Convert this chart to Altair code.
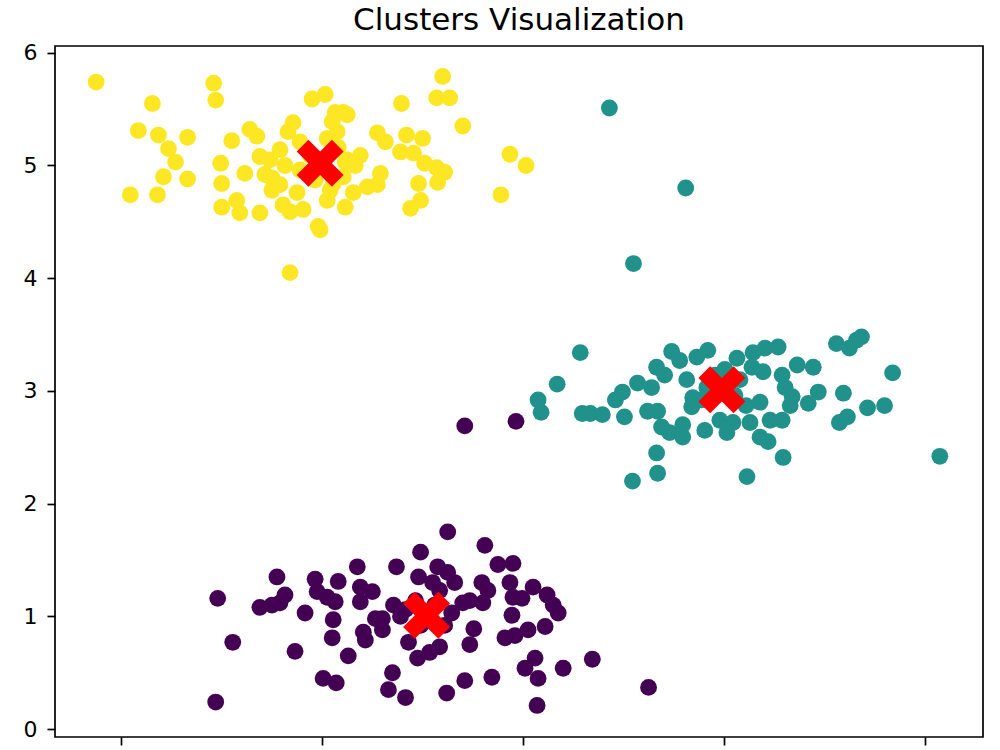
import altair as alt
import pandas as pd

# Cluster 0 (purple)
purple_x = [-1.04, -1.06, -0.89, -0.45, -0.62, -0.50, -0.37, -0.42, -0.17, -0.27,
            -0.07, -0.05, 0.05, 0.13, 0.16, 0.35, 0.38, 0.38, 0.50, 0.11,
            0.10, 0.41, 0.43, 0.53, 0.60, 0.60, 0.26, 0.01, 0.14, 0.70,
            0.66, 0.83, 0.74, 0.71, 0.78, 0.86, 0.95, 0.98, 0.96, 1.25,
            1.62, 1.15, 1.25, 1.32, 1.17, 1.10, 1.59, 1.65, 1.47, 1.60,
            1.40, 1.75, 1.90, 1.87, 1.90, 1.99, 2.10, 2.24, 2.30, 2.35,
            1.89, 1.29, 0.83, 1.51, 1.47, 1.82, 1.92, 2.05, 2.22, 1.17,
            1.07, 2.12, 2.02, 2.15, 2.40, 2.69, 1.69, 1.42, 1.24, 2.14,
            3.25, 1.42, 1.93, 0.98, 1.12, 0.93, 1.22]
purple_y = [1.16, 0.24, 0.77, 1.35, 1.08, 1.10, 1.19, 1.12, 1.03, 0.69,
            1.33, 1.22, 1.17, 1.13, 1.31, 1.44, 1.26, 1.13, 1.22, 0.97,
            0.81, 0.86, 0.79, 0.98, 0.98, 0.88, 0.65, 0.45, 0.41, 0.50,
            0.35, 0.28, 1.44, 1.10, 1.00, 0.77, 0.63, 1.57, 1.35, 1.75,
            1.63, 1.44, 1.39, 1.30, 1.23, 1.30, 1.30, 1.23, 1.14, 1.12,
            1.12, 1.46, 1.47, 1.30, 1.17, 1.16, 1.26, 1.19, 1.10, 1.03,
            1.01, 1.03, 1.06, 0.89, 0.75, 0.81, 0.83, 0.88, 0.91, 0.73,
            0.68, 0.63, 0.54, 0.45, 0.54, 0.62, 0.46, 0.43, 0.32, 0.21,
            0.37, 2.69, 2.73, 0.92, 1.10, 1.14, 0.92]

# Cluster 1 (teal)
teal_x = [2.86, 3.62, 3.10, 2.57, 2.34, 2.15, 2.18, 2.59, 2.67, 2.79,
          3.01, 2.92, 2.99, 3.14, 3.28, 3.33, 3.41, 3.48, 3.56, 3.24,
          3.34, 3.46, 3.59, 3.59, 3.33, 3.34, 3.09, 3.73, 3.84, 3.63,
          3.69, 3.68, 3.83, 3.96, 4.03, 4.13, 4.23, 4.09, 4.29, 4.41,
          4.54, 4.39, 4.28, 4.36, 4.58, 4.73, 4.89, 4.61, 4.68, 4.66,
          4.84, 4.94, 5.12, 5.25, 5.37, 5.68, 5.19, 5.23, 5.15, 5.43,
          5.60, 6.15, 4.59, 4.44, 4.36, 4.58, 4.46, 4.26, 5.32, 3.91,
          4.11, 3.78, 4.16, 4.01, 4.22, 3.38, 3.81]
teal_y = [5.51, 4.80, 4.13, 3.34, 3.06, 2.92, 2.81, 2.80, 2.80, 2.79,
          2.77, 2.92, 2.99, 3.07, 3.03, 3.21, 3.14, 3.35, 3.27, 2.82,
          2.82, 2.63, 2.70, 2.59, 2.45, 2.27, 2.20, 3.30, 3.36, 3.10,
          2.94, 2.86, 3.03, 2.74, 2.63, 3.29, 2.24, 2.72, 3.34, 3.38,
          3.39, 3.17, 3.21, 2.90, 3.14, 3.23, 3.21, 3.03, 2.95, 2.87,
          2.89, 2.99, 3.42, 3.38, 3.48, 3.16, 2.98, 2.77, 2.72, 2.85,
          2.87, 2.42, 2.41, 2.55, 2.59, 2.74, 2.74, 2.72, 3.45, 3.14,
          2.96, 2.92, 3.10, 3.19, 2.87, 2.68, 2.65]

# Cluster 2 (yellow)
yellow_x = [-2.25, -1.08, -1.06, -1.69, -0.10, 0.03, -1.83, -1.63, -1.34, -1.53,
            -1.46, -1.58, -1.34, -1.91, -1.64, -0.90, -0.72, -0.65, -1.01, -1.00,
            -0.77, -0.62, -0.52, -0.42, -0.34, -0.29, -0.50, -0.42, -0.50, -1.00,
            -0.85, -0.82, -0.62, -0.39, -0.32, -0.19, -0.02, 0.05, 0.08, 0.13,
            0.21, 0.10, 0.15, 0.05, 0.23, 0.25, 1.20, 1.14, 1.27, 0.79,
            1.40, 0.25, 0.55, 0.63, 0.84, 1.00, 0.78, 0.91, 1.02, 1.14,
            1.22, 0.38, 0.33, 0.23, 0.58, 0.55, 0.45, 0.31, 0.96, 1.15,
            0.98, 0.88, 1.87, 2.03, 1.78, 0.21, 0.11, -0.32, -0.04, -0.12,
            -0.22, -0.07, -0.25, -0.22, 0.16, -0.37, -0.57]
yellow_y = [5.74, 5.73, 5.58, 5.55, 5.59, 5.63, 5.31, 5.27, 5.25, 5.15,
            5.03, 4.90, 4.88, 4.74, 4.74, 5.22, 5.32, 5.26, 5.02, 4.84,
            4.93, 5.08, 5.05, 5.14, 5.30, 5.38, 4.89, 4.83, 4.78, 4.63,
            4.69, 4.58, 4.58, 4.65, 4.59, 4.61, 4.43, 4.69, 4.78, 5.47,
            5.47, 5.39, 5.30, 5.24, 4.63, 5.05, 5.79, 5.60, 5.60, 5.55,
            5.35, 5.45, 5.29, 5.21, 5.27, 5.24, 5.12, 5.11, 5.02, 4.98,
            4.94, 5.09, 5.00, 5.03, 4.93, 4.83, 4.81, 4.76, 4.84, 4.85,
            4.69, 4.62, 5.10, 5.00, 4.74, 4.90, 4.84, 4.05, 4.46, 5.09,
            4.96, 4.87, 4.76, 5.21, 5.16, 5.00, 4.92]

# Cluster centres
centroid_x = [1.04, 3.98, -0.02]
centroid_y = [1.01, 3.01, 5.02]

cluster_names = ["0", "1", "2"]
cluster_colors = ["#440154", "#21918c", "#fde725"]
y_ticks = [0, 1, 2, 3, 4, 5, 6]
x_ticks = [-2, 0, 2, 4, 6]

rows = []
for name, xs, ys in zip(cluster_names,
                        [purple_x, teal_x, yellow_x],
                        [purple_y, teal_y, yellow_y]):
    rows += [{"x": a, "y": b, "cluster": name} for a, b in zip(xs, ys)]
points = pd.DataFrame(rows)
centers = pd.DataFrame({"x": centroid_x, "y": centroid_y})

x_scale = alt.Scale(domain=[-2.66, 6.58], nice=False, zero=False)
y_scale = alt.Scale(domain=[-0.07, 6.06], nice=False, zero=False)

x_axis = alt.Axis(values=x_ticks, labels=False, title=None, grid=False,
                  domain=False, tickSize=8, tickWidth=1.7, tickColor="black")
y_axis = alt.Axis(values=y_ticks, format="d", title=None, grid=False,
                  domain=False, tickSize=8, tickWidth=1.7, tickColor="black",
                  labelFont="DejaVu Sans", labelFontSize=22, labelColor="black",
                  labelPadding=10)

dots = alt.Chart(points).mark_circle(size=283, opacity=1).encode(
    x=alt.X("x:Q", scale=x_scale, axis=x_axis),
    y=alt.Y("y:Q", scale=y_scale, axis=y_axis),
    color=alt.Color("cluster:N",
                    scale=alt.Scale(domain=cluster_names, range=cluster_colors),
                    legend=None),
)

# filled "X" marker outline
X_PATH = ("M-0.5,-1L0,-0.5L0.5,-1L1,-0.5L0.5,0L1,0.5L0.5,1L0,0.5"
          "L-0.5,1L-1,0.5L-0.5,0L-1,-0.5Z")
crosses = alt.Chart(centers).mark_point(
    shape=X_PATH, size=2200, filled=True, color="red", opacity=1, strokeWidth=0
).encode(
    x=alt.X("x:Q", scale=x_scale),
    y=alt.Y("y:Q", scale=y_scale),
)

chart = alt.layer(dots, crosses).properties(
    width=928,
    height=691,
    title=alt.TitleParams("Clusters Visualization", font="DejaVu Sans",
                          fontSize=31, fontWeight="normal", color="black",
                          offset=5, anchor="middle"),
    padding={"left": 55, "top": 46, "right": 17, "bottom": 13},
    autosize=alt.AutoSizeParams(type="none"),
).configure_view(stroke="black", strokeWidth=1.7)

chart.save("out.html", embed_options={"renderer": "svg", "actions": False})
